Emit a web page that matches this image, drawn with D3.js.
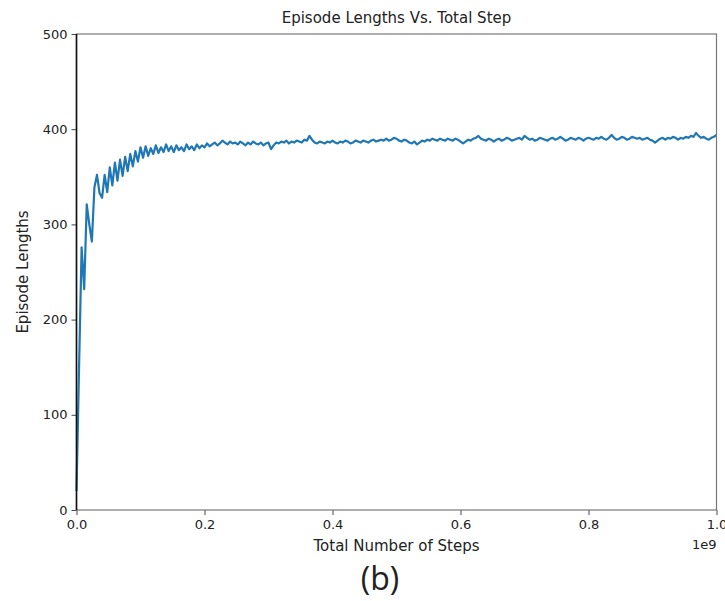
<!DOCTYPE html>
<html>
<head>
<meta charset="utf-8">
<script src="https://cdn.jsdelivr.net/npm/d3@7"></script>
<style>
    body { margin: 0; background: #fff; }
    svg { display: block; }
    text { font-family: "DejaVu Sans", sans-serif; fill: #222; }
</style>
</head>
<body>
<div id="chart"></div>
<script>
// episode lengths, one reading every 0.004e9 steps
var lengths = [
    20, 150, 276, 232, 321, 300, 282, 339, 352, 333, 328, 352, 334, 360, 341, 365, 346, 368, 351, 371, 356, 374, 361, 377, 366,
    381, 370, 382, 372, 380, 374, 383, 375, 381, 376, 384, 377, 382, 376, 383, 378, 381, 377, 384, 379, 382, 378, 384, 380,
    383, 381, 385, 382, 384, 386, 383, 385, 388, 386, 384, 387, 385, 386, 384, 387, 385, 383, 386, 384,
    387, 385, 384, 386, 383, 385, 386, 379, 383, 386, 385, 387, 386, 388, 385, 387, 386, 388, 387, 386, 389, 388,
    393,
    389, 386, 385, 387, 386, 385, 387, 386, 388, 386, 385, 387, 386, 388, 387, 385, 386, 388, 387, 386,
    388, 387, 386, 388, 389, 387, 388, 389, 388, 390, 388, 389, 391, 390, 388, 387, 389, 388, 386, 385,
    387, 384, 386, 388, 387, 389, 388, 390, 389, 388, 390, 389, 388, 390, 389,
    388, 390, 389, 387, 385, 387, 389, 388, 390, 391, 393, 390, 389, 388, 390, 389, 387, 389, 390, 388,
    389, 391, 390, 388, 389, 390, 391, 389, 393, 391, 389, 390, 388, 389, 391, 390, 389, 388, 390, 391,
    389, 390, 392, 390, 388, 389, 391, 390, 389, 391, 390, 388, 390, 391,
    390, 389, 391, 390, 392, 390, 389, 391, 394, 391, 389, 390, 392, 391, 389, 390, 392, 391, 390, 391,
    389, 390, 391, 389, 388, 386, 388, 390, 391, 389, 391, 390, 392, 391, 389, 391, 390, 392, 391, 393,
    392, 396, 393, 391, 392, 390, 389, 391, 392, 394
];
var stepSize = 0.004; // in units of 1e9
var steps = lengths.map(function (d, i) { return i * stepSize; });

var xTicks = [0, 0.2, 0.4, 0.6, 0.8, 1.0];
var yTicks = [0, 100, 200, 300, 400, 500];

var chartTitle = "Episode Lengths Vs. Total Step";
var xLabel = "Total Number of Steps";
var yLabel = "Episode Lengths";
var offsetLabel = "1e9";
var panelLabel = "(b)";

var W = 725, H = 601;
var margin = { top: 34, right: 8.5, bottom: 91, left: 76.5 },
    width = W - margin.left - margin.right,
    height = H - margin.top - margin.bottom;

var svg = d3.select("#chart").append("svg")
    .attr("width", W)
    .attr("height", H);

var g = svg.append("g")
    .attr("transform", "translate(" + margin.left + "," + margin.top + ")");

var x = d3.scaleLinear().domain([0, 1]).range([0, width]);
var y = d3.scaleLinear().domain([0, 500]).range([height, 0]);

// axes
var xAxis = d3.axisBottom(x).tickValues(xTicks).tickFormat(d3.format(".1f")).tickSize(5).tickPadding(5);
var yAxis = d3.axisLeft(y).tickValues(yTicks).tickFormat(d3.format("d")).tickSize(5).tickPadding(4);

var gx = g.append("g")
    .attr("transform", "translate(0," + height + ")")
    .call(xAxis);
var gy = g.append("g").call(yAxis);

[gx, gy].forEach(function (a) {
    a.select(".domain").remove();
    a.selectAll(".tick line").attr("stroke", "#444").attr("stroke-width", 1);
    a.selectAll(".tick text").style("font-size", "13px").attr("fill", "#222");
});

// line
var line = d3.line()
    .x(function (d, i) { return x(steps[i]); })
    .y(function (d) { return y(d); });

g.append("path")
    .datum(lengths)
    .attr("fill", "none")
    .attr("stroke", "#1f77b4")
    .attr("stroke-width", 2.2)
    .attr("stroke-linejoin", "round")
    .attr("d", line);

// spines
g.append("rect")
    .attr("x", 0).attr("y", 0)
    .attr("width", width).attr("height", height)
    .attr("fill", "none")
    .attr("stroke", "#777")
    .attr("stroke-width", 1.2);
g.append("line")
    .attr("x1", 0).attr("x2", 0)
    .attr("y1", 0).attr("y2", height)
    .attr("stroke", "#111")
    .attr("stroke-width", 1.6);

// labels
svg.append("text")
    .attr("x", margin.left + width / 2)
    .attr("y", 23)
    .attr("text-anchor", "middle")
    .style("font-size", "15px")
    .text(chartTitle);

svg.append("text")
    .attr("x", margin.left + width / 2)
    .attr("y", 551)
    .attr("text-anchor", "middle")
    .style("font-size", "15px")
    .text(xLabel);

svg.append("text")
    .attr("x", margin.left + width)
    .attr("y", 549)
    .attr("text-anchor", "end")
    .style("font-size", "13px")
    .text(offsetLabel);

svg.append("text")
    .attr("transform", "translate(28," + (margin.top + height / 2) + ") rotate(-90)")
    .attr("text-anchor", "middle")
    .style("font-size", "15px")
    .text(yLabel);

svg.append("text")
    .attr("x", 380)
    .attr("y", 590)
    .attr("text-anchor", "middle")
    .style("font-family", "'Open Sans', sans-serif")
    .style("font-size", "32px")
    .attr("fill", "#111")
    .text(panelLabel);
</script>
</body>
</html>
